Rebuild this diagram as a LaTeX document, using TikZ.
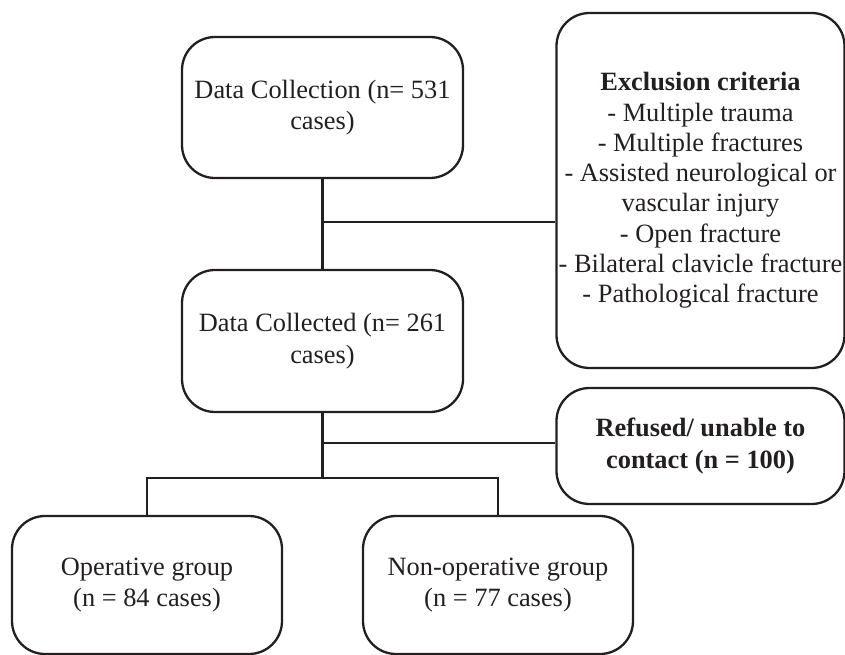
\documentclass[tikz,border=0pt]{standalone}
\usepackage{fontspec}
\setmainfont{Liberation Serif}
\definecolor{ink}{HTML}{231F20}
\begin{document}
\begin{tikzpicture}[x=1pt,y=-1pt,
  box/.style={draw=ink, line width=2.3pt, rounded corners=33pt, align=center,
    text=ink, inner sep=0pt, font=\fontsize{26.4}{31.5}\selectfont},
  link/.style={draw=ink, line width=2.3pt}]
\useasboundingbox (0,0) rectangle (845,655);
\node[box, minimum width=281pt, minimum height=141pt] (c1) at (322.5,107.5)
  {Data Collection (n= 531\\cases)};
\node[box, minimum width=281pt, minimum height=142pt] (c2) at (322.5,341)
  {Data Collected (n= 261\\cases)};
\node[box, minimum width=288pt, minimum height=355pt,
  font=\fontsize{26.4}{30.3}\selectfont] (ex) at (700.5,190.5)
  {\textbf{Exclusion criteria}\\- Multiple trauma\\- Multiple fractures\\- Assisted neurological or\\vascular injury\\- Open fracture\\- Bilateral clavicle fracture\\- Pathological fracture};
\node[box, minimum width=288pt, minimum height=116pt] (rf) at (700.5,446)
  {\textbf{Refused/ unable to}\\\textbf{contact (n = 100)}};
\node[box, minimum width=270pt, minimum height=138pt] (op) at (147,585)
  {Operative group\\(n = 84 cases)};
\node[box, minimum width=270pt, minimum height=138pt] (no) at (498,585)
  {Non-operative group\\(n = 77 cases)};
\coordinate (j1) at (c1.south |- 0,222);
\coordinate (j2) at (c2.south |- 0,443);
\coordinate (j3) at (c2.south |- 0,478);
\draw[link] (c1.south) -- (c2.north);
\draw[link] (j1) -- (j1 -| ex.west);
\draw[link] (c2.south) -- (j3);
\draw[link] (j2) -- (j2 -| rf.west);
\draw[link] (op.north) -- (op.north |- j3) -- (no.north |- j3) -- (no.north);
\end{tikzpicture}
\end{document}
